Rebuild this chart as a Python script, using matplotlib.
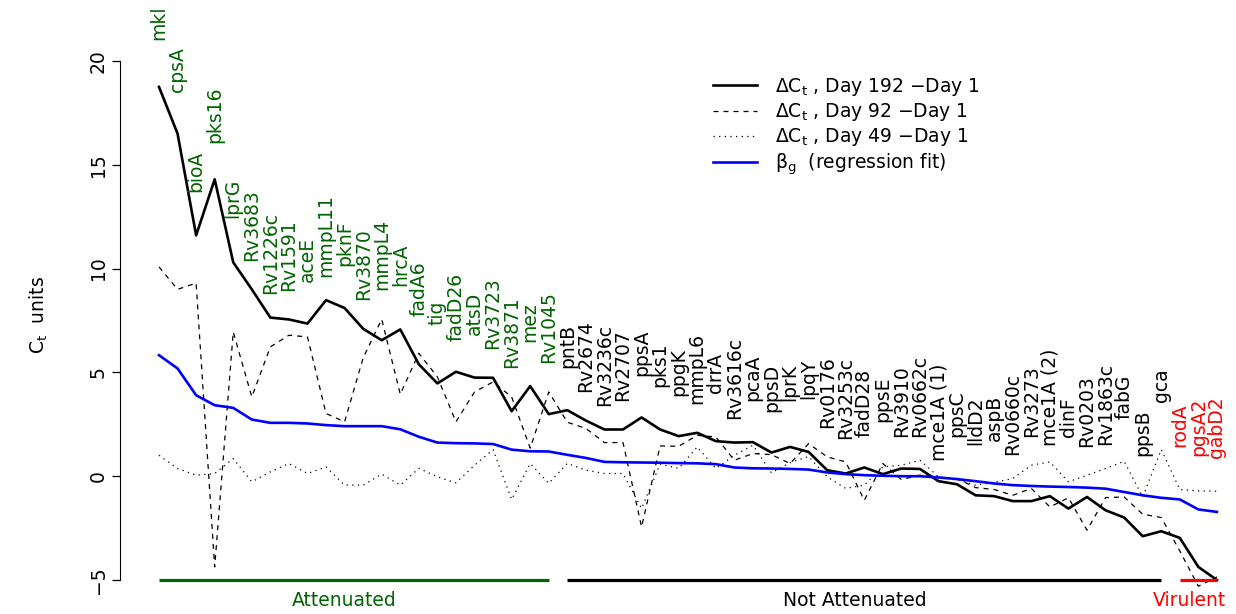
import numpy as np
import matplotlib.pyplot as plt

plt.rcParams['font.family'] = 'DejaVu Sans'
plt.rcParams['mathtext.fontset'] = 'dejavusans'

genes = ['mkl', 'cpsA', 'bioA', 'pks16', 'lprG', 'Rv3683', 'Rv1226c', 'Rv1591',
         'aceE', 'mmpL11', 'pknF', 'Rv3870', 'mmpL4', 'hrcA', 'fadA6', 'tig',
         'fadD26', 'atsD', 'Rv3723', 'Rv3871', 'mez', 'Rv1045',
         'pntB', 'Rv2674', 'Rv3236c', 'Rv2707', 'ppsA', 'pks1', 'ppgK', 'mmpL6',
         'drrA', 'Rv3616c', 'pcaA', 'ppsD', 'lprK', 'lpqY', 'Rv0176', 'Rv3253c',
         'fadD28', 'ppsE', 'Rv3910', 'Rv0662c', 'mce1A (1)', 'ppsC', 'lldD2',
         'aspB', 'Rv0660c', 'Rv3273', 'mce1A (2)', 'dinF', 'Rv0203', 'Rv1863c',
         'fabG', 'ppsB', 'gca',
         'rodA', 'pgsA2', 'gabD2']

# delta Ct relative to day 1
day192 = [18.75, 16.5, 11.6, 14.3, 10.3, 9.0, 7.64, 7.55, 7.35, 8.48, 8.1, 7.1,
          6.55, 7.07, 5.39, 4.47, 5.03, 4.75, 4.74, 3.13, 4.34, 2.99,
          3.18, 2.68, 2.25, 2.25, 2.83, 2.25, 1.93, 2.09, 1.69, 1.62, 1.64, 1.14,
          1.41, 1.17, 0.29, 0.13, 0.42, 0.1, 0.37, 0.35, -0.24, -0.39, -0.92,
          -0.96, -1.2, -1.2, -0.96, -1.56, -1.0, -1.64, -1.99, -2.89, -2.65,
          -2.97, -4.37, -5.0]
day92 = [10.08, 9.0, 9.3, -4.37, 6.95, 3.82, 6.23, 6.79, 6.71, 3.02, 2.62, 5.7,
         7.56, 3.95, 5.92, 4.78, 2.62, 4.06, 4.54, 3.82, 1.35, 4.06,
         2.6, 2.3, 1.62, 1.62, -2.44, 1.46, 1.44, 1.97, 1.89, 0.77, 1.09, 1.04,
         0.61, 1.57, 0.93, 0.69, -1.16, 0.61, -0.16, 0.05, -0.06, -0.11, -0.55,
         -0.64, -0.92, -0.59, -1.48, -1.04, -2.6, -1.03, -1.0, -1.83, -1.99,
         -3.6, -5.3, -4.85]
day49 = [1.01, 0.37, 0.05, 0.13, 0.85, -0.27, 0.21, 0.61, 0.13, 0.45, -0.43, -0.43,
         0.1, -0.43, 0.38, -0.03, -0.32, 0.53, 1.28, -1.12, 0.61, -0.34,
         0.62, 0.29, 0.13, 0.13, -1.55, 0.58, 0.37, 1.41, 0.37, 1.01, 1.49, 0.16,
         0.65, 0.95, -0.03, -0.59, -0.43, 0.45, 0.53, 0.77, -0.03, -0.16, -0.43,
         -0.3, -0.11, 0.53, 0.69, -0.27, 0.05, 0.37, 0.72, -1.0, 1.28,
         -0.64, -0.71, -0.72]
beta_g = [5.83, 5.19, 3.9, 3.42, 3.29, 2.73, 2.57, 2.57, 2.54, 2.46, 2.41, 2.41,
          2.41, 2.26, 1.9, 1.62, 1.59, 1.58, 1.55, 1.28, 1.2, 1.19,
          1.03, 0.88, 0.69, 0.67, 0.66, 0.65, 0.63, 0.62, 0.58, 0.42, 0.38, 0.37,
          0.35, 0.32, 0.18, 0.1, 0.05, 0.02, 0.0, 0.0, -0.06, -0.14, -0.24,
          -0.35, -0.43, -0.47, -0.5, -0.52, -0.55, -0.6, -0.76, -0.92, -1.04,
          -1.12, -1.6, -1.72]

groups = ['Attenuated', 'Not Attenuated', 'Virulent']
group_sizes = [22, 33, 3]
group_colors = ['darkgreen', 'black', 'red']

x = np.arange(len(genes))

fig = plt.figure(figsize=(12.36, 6.14), dpi=100)
W, H = 1236, 614
ax = fig.add_axes([120 / W, (H - 590.4) / H, (1230 - 120) / W, (590.4 - 40.2) / H])

ax.plot(x, day192, color='black', lw=1.9,
        label='\u0394C$_{\\mathrm{t}}$ , Day 192 \u2212Day 1')
ax.plot(x, day92, color='black', lw=0.9, linestyle=(0, (4, 4)),
        label='\u0394C$_{\\mathrm{t}}$ , Day 92 \u2212Day 1')
ax.plot(x, day49, color='black', lw=0.9, linestyle=(0, (1, 3.5)),
        label='\u0394C$_{\\mathrm{t}}$ , Day 49 \u2212Day 1')
ax.plot(x, beta_g, color='blue', lw=1.9,
        label='\u03b2$_{\\mathrm{g}}$  (regression fit)')

# gene names above the highest of the three ddCt curves
top = np.max([day192, day92, day49], axis=0)
start = 0
for name, size, col in zip(groups, group_sizes, group_colors):
    end = start + size - 1
    for i in range(start, end + 1):
        ax.text(x[i], top[i] + 3.1, genes[i], rotation=90, ha='center',
                va='center', color=col, fontsize=13.5, clip_on=False)
    ax.plot([x[start], x[end]], [-5, -5], color=col, lw=2.3,
            solid_capstyle='butt', clip_on=False)
    ax.annotate(name, ((x[start] + x[end]) / 2 - 0.5, -5), xytext=(0, -8),
                textcoords='offset points', ha='center', va='top',
                color=col, fontsize=13.5, annotation_clip=False)
    start = end + 1

ax.set_xlim((120 - 159) / 18.56, (1230 - 159) / 18.56)
ax.set_ylim(-5.5, 21.0)
for side in ['top', 'right', 'bottom']:
    ax.spines[side].set_visible(False)
ax.spines['left'].set_bounds(-5, 20)
ax.set_xticks([])
ax.set_yticks([-5, 0, 5, 10, 15, 20])
ax.tick_params(axis='y', length=6, width=0.9, pad=3, labelsize=13.5, labelrotation=90)
for lab in ax.get_yticklabels():
    lab.set_va('center')
ax.set_ylabel('C$_{\\mathrm{t}}$  units', fontsize=13.5)
ax.yaxis.set_label_coords(-0.063, 0.5)

ax.legend(loc='upper left', bbox_to_anchor=(713 / W, 1 - 76 / H),
          bbox_transform=fig.transFigure, frameon=False, fontsize=13.5,
          handlelength=2.35, handletextpad=0.95, labelspacing=0.17,
          borderpad=0, borderaxespad=0)

fig.savefig('out.png', dpi=100)
